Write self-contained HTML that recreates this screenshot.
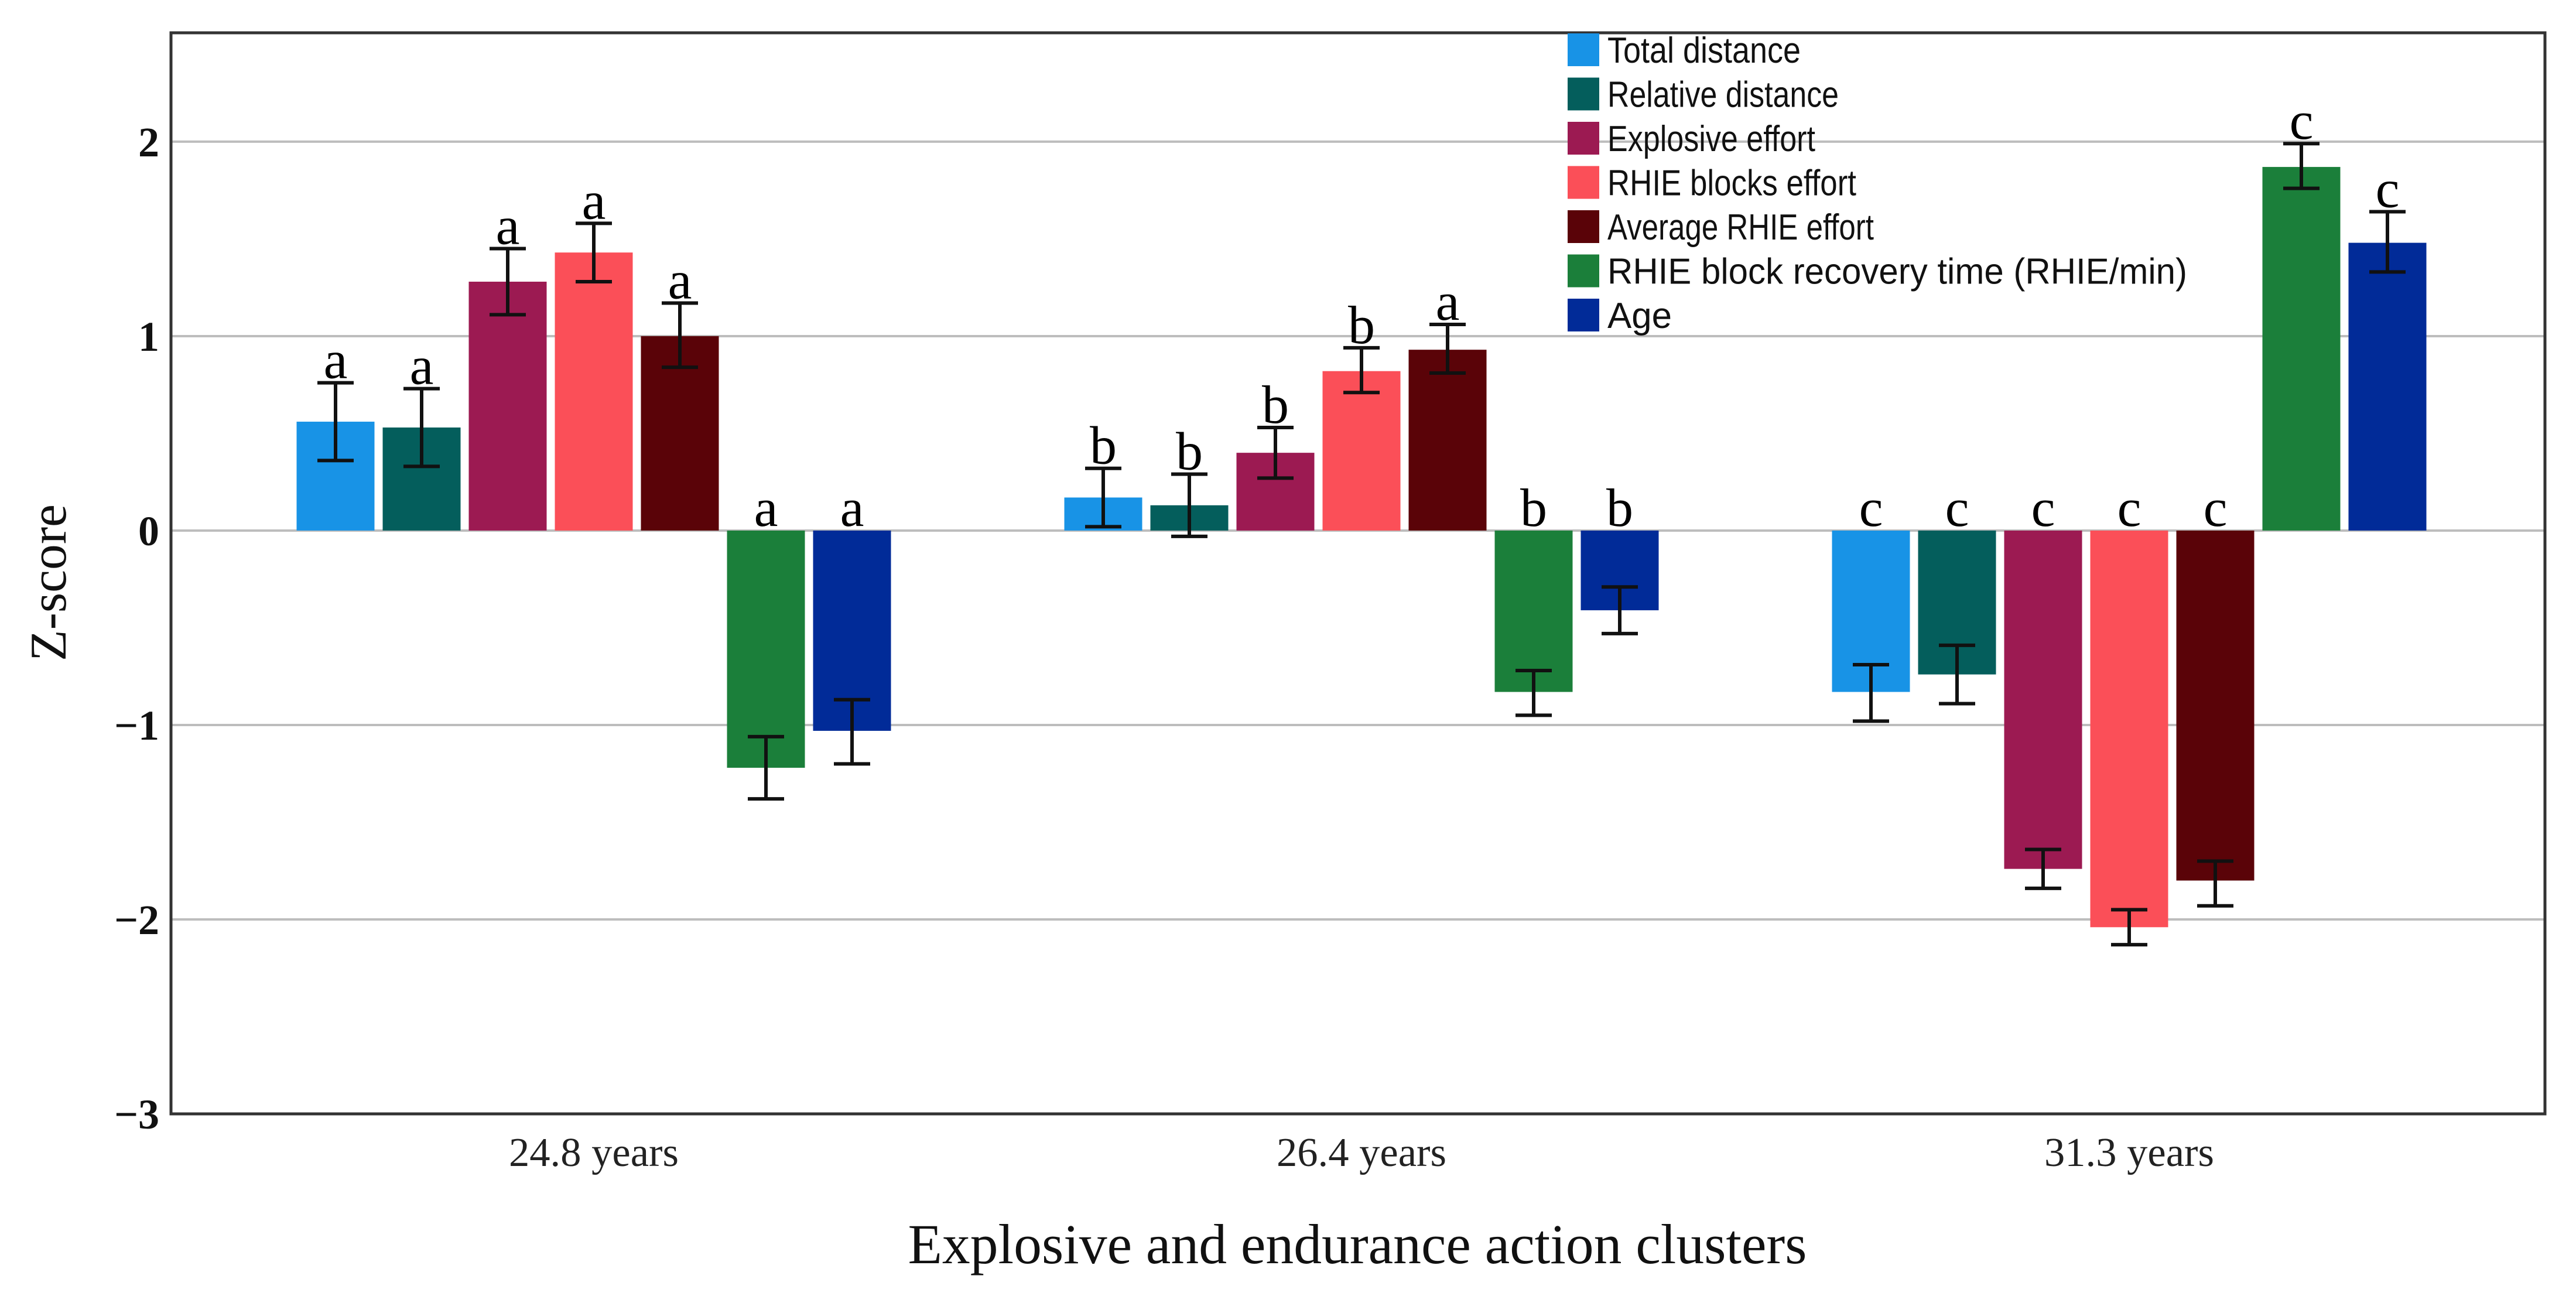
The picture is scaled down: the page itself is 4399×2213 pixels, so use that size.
<!DOCTYPE html>
<html><head><meta charset="utf-8"><style>
html,body{margin:0;padding:0;background:#fff;}
svg{display:block;}
</style></head><body>
<svg id="chart" width="4399" height="2213" viewBox="0 0 4399 2213" xmlns="http://www.w3.org/2000/svg">
<rect width="4399" height="2213" fill="#fff"/>
<g id="grid"></g>
<g id="bars"></g>
<g id="errs"></g>
<g id="letters"></g>
<g id="axes"></g>
<g id="legend"></g>
</svg>
<script>
const categories = ["24.8 years", "26.4 years", "31.3 years"];
const seriesNames = ["Total distance","Relative distance","Explosive effort","RHIE blocks effort","Average RHIE effort","RHIE block recovery time (RHIE/min)","Age"];
const seriesColors = ["#1893e6","#045e5c","#9c1a52","#fb4f58","#5a0308","#1b7f3a","#012b98"];
const valuesG1 = [0.56, 0.53, 1.28, 1.43, 1.00, -1.22, -1.03];
const valuesG2 = [0.17, 0.13, 0.40, 0.82, 0.93, -0.83, -0.41];
const valuesG3 = [-0.83, -0.74, -1.74, -2.04, -1.80, 1.87, 1.48];
const errHiG1 = [0.76, 0.73, 1.45, 1.58, 1.17, -1.06, -0.87];
const errLoG1 = [0.36, 0.33, 1.11, 1.28, 0.84, -1.38, -1.20];
const errHiG2 = [0.32, 0.29, 0.53, 0.94, 1.06, -0.72, -0.29];
const errLoG2 = [0.02, -0.03, 0.27, 0.71, 0.81, -0.95, -0.53];
const errHiG3 = [-0.69, -0.59, -1.64, -1.95, -1.70, 1.99, 1.64];
const errLoG3 = [-0.98, -0.89, -1.84, -2.13, -1.93, 1.76, 1.33];
const lettersG = ["a", "b", "c"];
const lettersG2 = ["b","b","b","b","a","b","b"];
const yTicks = [2, 1, 0, -1, -2, -3];
const yTickLabels = ["2","1","0","\u22121","\u22122","\u22123"];

const values = [valuesG1, valuesG2, valuesG3];
const errHi = [errHiG1, errHiG2, errHiG3];
const errLo = [errLoG1, errLoG2, errLoG3];
const groupLetters = [Array(7).fill(lettersG[0]), lettersG2, Array(7).fill(lettersG[2])];

const NS = "http://www.w3.org/2000/svg";
const L = 292, R = 4346, T = 56, B = 1902;
const yMin = -3, yMax = 2.56;
function y(v){ return B - (v - yMin) / (yMax - yMin) * (B - T); }
const groupStart = 1014, groupStep = 1311;
function xGroup(i){ return groupStart + i * groupStep; }
const barW = 133, pitch = 147;
function xBar(g, s){ return xGroup(g) + (s - 3) * pitch - barW / 2; }
function mk(tag, attrs, parent){ const e = document.createElementNS(NS, tag); for (const k in attrs) e.setAttribute(k, attrs[k]); parent.appendChild(e); return e; }

const grid = document.getElementById('grid');
yTicks.forEach((t, i) => {
  if (t !== -3) {
    const gl = mk('line', {x1:L, x2:R, y1:y(t), y2:y(t), stroke:'#bdbdbd', 'stroke-width':4}, grid);
    
    
  }
  const tl = mk('text', {x:272, y:y(t)+25, 'text-anchor':'end', 'font-family':'Liberation Serif, serif', 'font-weight':'bold', 'font-size':72, fill:'#111'}, grid);
  tl.textContent = yTickLabels[i];
  
  
});

const barsG = document.getElementById('bars'), errG = document.getElementById('errs'), letG = document.getElementById('letters');
values.forEach((vals, g) => {
  vals.forEach((v, s) => {
    const x = xBar(g, s);
    const top = Math.min(y(v), y(0)), h = Math.abs(y(v) - y(0));
    const r = mk('rect', {x:x, y:top, width:barW, height:h, fill:seriesColors[s]}, barsG);
    
    
    const cx = x + barW / 2;
    const yh = y(errHi[g][s]), yl = y(errLo[g][s]);
    const eb = mk('path', {d:`M${cx},${yh}V${yl}M${cx-31},${yh}H${cx+31}M${cx-31},${yl}H${cx+31}`, stroke:'#111', 'stroke-width':6, fill:'none'}, errG);
    
    
    const ly = v >= 0 ? yh - 8 : y(0) - 8;
    const lt = mk('text', {x:cx, y:ly, 'text-anchor':'middle', 'font-family':'Liberation Serif, serif', 'font-size':92, fill:'#000'}, letG);
    lt.textContent = groupLetters[g][s];
    
    
  });
});

const ax = document.getElementById('axes');
const fr = mk('rect', {x:L, y:T, width:R-L, height:B-T, fill:'none', stroke:'#333', 'stroke-width':5}, ax);


categories.forEach((c, i) => {
  const t = mk('text', {x:xGroup(i), y:1991, 'text-anchor':'middle', 'font-family':'Liberation Serif, serif', 'font-size':70, fill:'#222', textLength:290, lengthAdjust:'spacingAndGlyphs'}, ax);
  t.textContent = c;
  
  
});
const xt = mk('text', {x:2318, y:2157, 'text-anchor':'middle', 'font-family':'Liberation Serif, serif', 'font-size':96, fill:'#111', textLength:1535, lengthAdjust:'spacingAndGlyphs'}, ax);
xt.textContent = 'Explosive and endurance action clusters';


const yt = mk('text', {x:0, y:0, 'text-anchor':'middle', 'font-family':'Liberation Serif, serif', 'font-size':88, fill:'#111', textLength:268, lengthAdjust:'spacingAndGlyphs', transform:'translate(112,995) rotate(-90)'}, ax);
yt.textContent = 'Z-score';



const lg = document.getElementById('legend');
const legendLens = [330, 395, 355, 425, 455, 990, 110];
seriesNames.forEach((n, i) => {
  const cy = 85 + i * 75.5;
  const sw = mk('rect', {x:2677, y:cy-28, width:54, height:56, fill:seriesColors[i]}, lg);
  
  
  const t = mk('text', {x:2745, y:cy+22, 'font-family':'Liberation Sans, sans-serif', 'font-size':62, fill:'#111', textLength:legendLens[i], lengthAdjust:'spacingAndGlyphs'}, lg);
  t.textContent = n;
  
  
});
</script>
</body></html>
